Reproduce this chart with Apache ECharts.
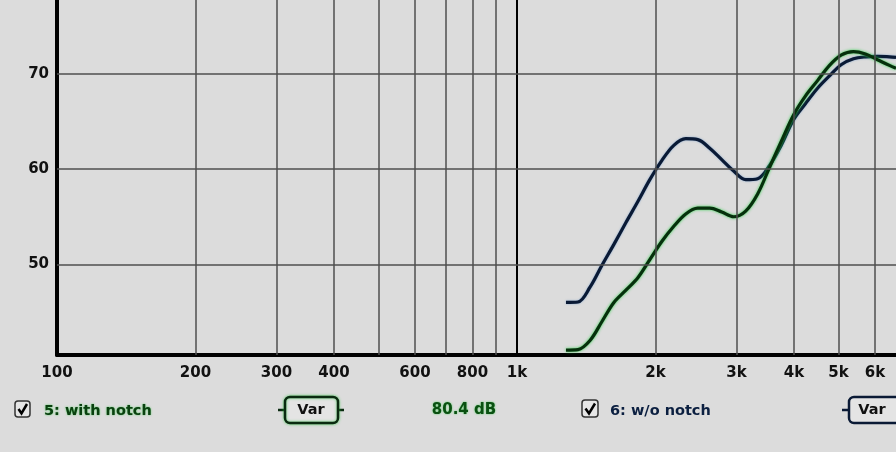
<!DOCTYPE html>
<html><head><meta charset="utf-8">
<script src="https://cdn.jsdelivr.net/npm/echarts@6/dist/echarts.min.js"></script>
<style>html,body{margin:0;padding:0;background:#dcdcdc}#c{width:896px;height:452px}</style>
</head><body><div id="c"></div>
<script>
// Frequency response data (Hz, dB)
const freqs = [1278, 1357, 1441, 1530, 1624, 1725, 1831, 1944, 2064, 2192, 2327, 2471, 2624, 2786, 2958, 3141, 3335, 3541, 3760, 3992, 4239, 4501, 4779, 5074, 5388, 5720, 6074, 6449, 6666];
const dbWithNotch    = [41.0, 41.05, 42.0, 44.0, 46.0, 47.3, 48.6, 50.5, 52.4, 54.0, 55.3, 55.9, 55.9, 55.5, 55.0, 55.6, 57.4, 60.2, 63.0, 65.7, 67.7, 69.3, 70.9, 72.0, 72.35, 72.1, 71.5, 70.9, 70.6];
const dbWithoutNotch = [46.0, 46.05, 47.6, 49.9, 52.1, 54.4, 56.6, 58.9, 60.9, 62.5, 63.2, 63.1, 62.2, 61.0, 59.8, 58.9, 59.0, 60.4, 62.6, 65.2, 66.9, 68.5, 69.8, 71.0, 71.6, 71.8, 71.85, 71.8, 71.75];

const xTickValues = [100, 200, 300, 400, 600, 800, 1000, 2000, 3000, 4000, 5000, 6000];
const xTickLabels = ['100', '200', '300', '400', '600', '800', '1k', '2k', '3k', '4k', '5k', '6k'];
const xGridValues = [200, 300, 400, 500, 600, 700, 800, 900, 2000, 3000, 4000, 5000, 6000];
const yTickValues = [50, 60, 70];

const seriesNames = ['5: with notch', '6: w/o notch'];
const levelText = '80.4 dB';

const zip = (a, b) => a.map((v, i) => [v, b[i]]);
const labelMap = {};
xTickValues.forEach((v, i) => { labelMap[v] = xTickLabels[i]; });

const chart = echarts.init(document.getElementById('c'));
const gridLine = { color: '#4f4f4f', width: 1.5, type: 'solid' };

const font = 'DejaVu Sans';
const option = {
  backgroundColor: '#dcdcdc',
  animation: false,
  grid: { left: 57, right: 0, top: 0, bottom: 97 },
  xAxis: {
    type: 'log', logBase: 10, min: 100, max: 6666,
    axisLine: { show: true, lineStyle: { color: '#000', width: 4 } },
    axisTick: { show: false },
    splitLine: { show: false },
    minorSplitLine: { show: false },
    axisLabel: {
      customValues: xTickValues,
      formatter: v => labelMap[Math.round(v)] || '',
      color: '#111', fontWeight: 'bold', fontSize: 15, fontFamily: font, margin: 11
    }
  },
  yAxis: {
    type: 'value', min: 40.48, max: 77.77,
    axisLine: { show: true, lineStyle: { color: '#000', width: 4 } },
    axisTick: { show: false },
    splitLine: { show: false },
    axisLabel: {
      customValues: yTickValues,
      color: '#111', fontWeight: 'bold', fontSize: 15, fontFamily: font, margin: 8
    }
  },
  series: [
    {
      type: 'line', name: 'grid', data: [], silent: true,
      markLine: {
        silent: true, symbol: 'none', animation: false,
        label: { show: false },
        lineStyle: gridLine,
        data: xGridValues.map(v => ({ xAxis: v }))
          .concat([{ xAxis: 1000, lineStyle: { color: '#000', width: 2 } }])
          .concat(yTickValues.map(v => ({ yAxis: v })))
      }
    },
    {
      type: 'line', name: seriesNames[1], data: zip(freqs, dbWithoutNotch),
      showSymbol: false, smooth: 0.35,
      lineStyle: { color: '#0a1a35', width: 3.2, shadowColor: 'rgba(40,110,190,0.5)', shadowBlur: 2 }
    },
    {
      type: 'line', name: seriesNames[0], data: zip(freqs, dbWithNotch),
      showSymbol: false, smooth: 0.35,
      lineStyle: { color: '#06300c', width: 3.2, shadowColor: 'rgba(40,210,70,0.95)', shadowBlur: 3 }
    }
  ],
  graphic: [
    // checkbox 1
    { type: 'rect', shape: { x: 15, y: 401, width: 15, height: 16, r: 3 }, style: { fill: '#e6e6e6', stroke: '#333', lineWidth: 1.5 } },
    { type: 'polyline', shape: { points: [[18.5, 409], [21.5, 413.5], [27, 404]] }, style: { stroke: '#000', lineWidth: 2.5, fill: null } },
    { type: 'text', x: 44, y: 411, style: { text: seriesNames[0], fill: '#0b4010', font: 'bold 14.5px "DejaVu Sans"', textVerticalAlign: 'middle', textShadowColor: 'rgba(40,200,60,0.8)', textShadowBlur: 2 } },
    // Var box 1
    { type: 'line', shape: { x1: 278, y1: 410, x2: 285, y2: 410 }, style: { stroke: '#0a2a10', lineWidth: 2.5 } },
    { type: 'line', shape: { x1: 338, y1: 410, x2: 344, y2: 410 }, style: { stroke: '#0a2a10', lineWidth: 2.5 } },
    { type: 'rect', shape: { x: 285, y: 397, width: 53, height: 26, r: 5 }, style: { fill: '#e4e4e4', stroke: '#0a2a10', lineWidth: 2.5, shadowColor: 'rgba(40,200,60,0.7)', shadowBlur: 3 } },
    { type: 'text', x: 311, y: 410, style: { text: 'Var', fill: '#111', font: 'bold 14.5px "DejaVu Sans"', textAlign: 'center', textVerticalAlign: 'middle' } },
    // level text
    { type: 'text', x: 464, y: 410, style: { text: levelText, fill: '#0b5012', font: 'bold 15px "DejaVu Sans"', textAlign: 'center', textVerticalAlign: 'middle', textShadowColor: 'rgba(40,200,60,0.8)', textShadowBlur: 2 } },
    // checkbox 2
    { type: 'rect', shape: { x: 582, y: 400, width: 16, height: 17, r: 3 }, style: { fill: '#e6e6e6', stroke: '#333', lineWidth: 1.5 } },
    { type: 'polyline', shape: { points: [[585.5, 408.5], [589, 413.5], [595, 403.5]] }, style: { stroke: '#000', lineWidth: 2.5, fill: null } },
    { type: 'text', x: 610, y: 411, style: { text: seriesNames[1], fill: '#0b1f40', font: 'bold 14.5px "DejaVu Sans"', textVerticalAlign: 'middle' } },
    // Var box 2
    { type: 'line', shape: { x1: 842, y1: 410, x2: 849, y2: 410 }, style: { stroke: '#0a1a35', lineWidth: 2.5 } },
    { type: 'rect', shape: { x: 849, y: 397, width: 60, height: 26, r: 5 }, style: { fill: '#e4e4e4', stroke: '#0a1a35', lineWidth: 2.5 } },
    { type: 'text', x: 872, y: 410, style: { text: 'Var', fill: '#111', font: 'bold 14.5px "DejaVu Sans"', textAlign: 'center', textVerticalAlign: 'middle' } }
  ]
};
chart.setOption(option);
</script>
</body></html>
